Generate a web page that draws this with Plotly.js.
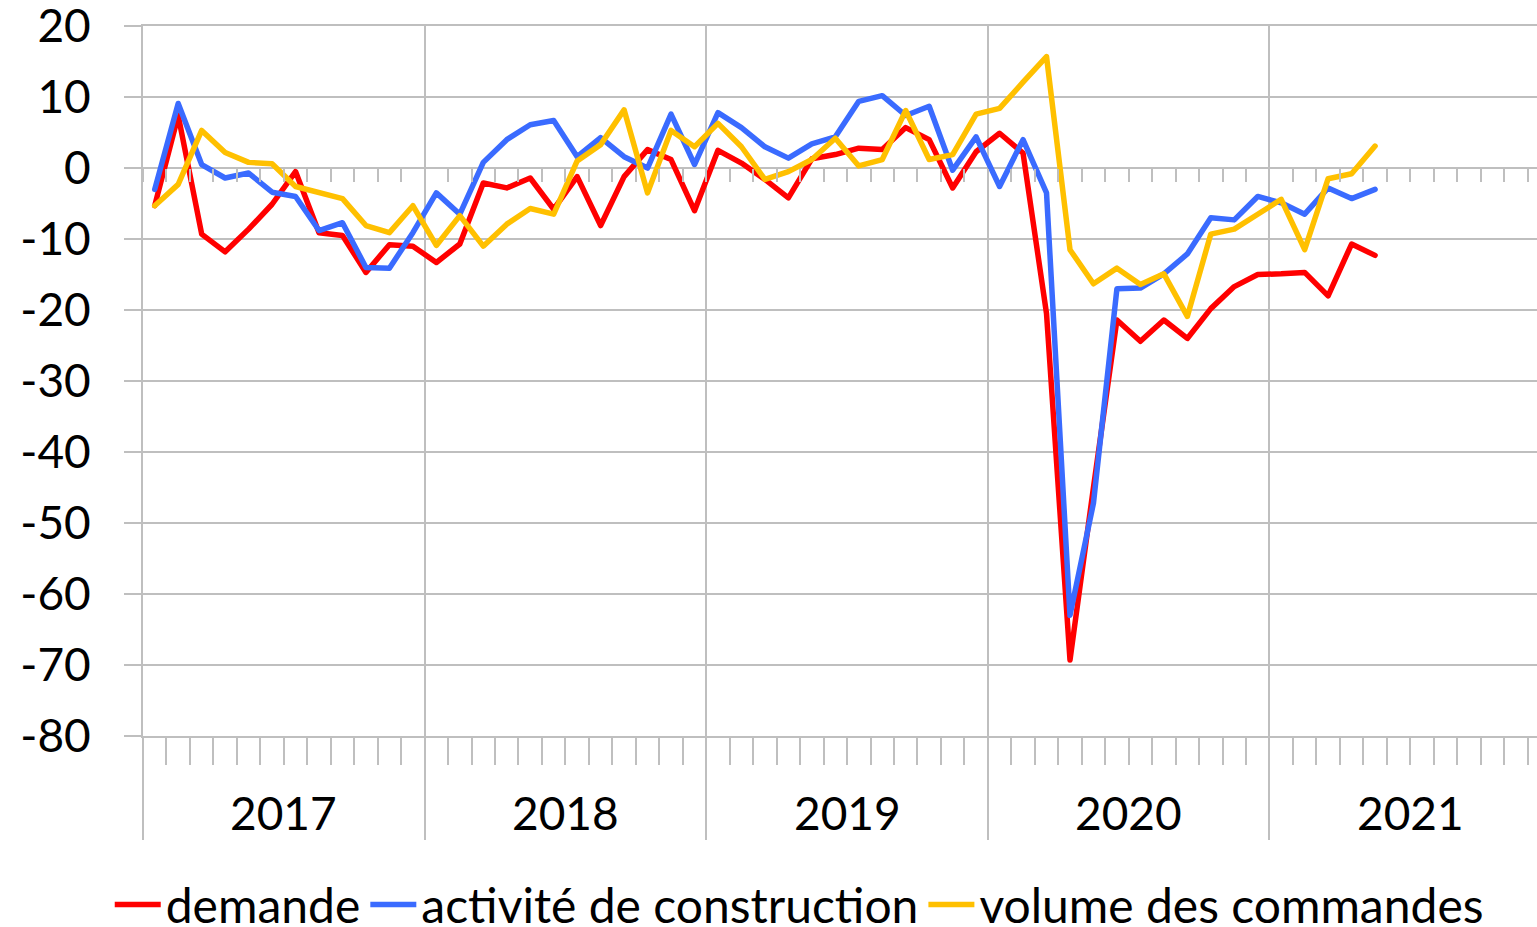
<!DOCTYPE html>
<html>
<head>
<meta charset="utf-8">
<script src="https://cdn.plot.ly/plotly-3.0.1.min.js"></script>
<style>
html,body{margin:0;padding:0;background:#fff;}
#chart{width:1537px;height:927px;}
.scatterlayer .js-line{stroke-linejoin:round;stroke-linecap:round;}
</style>
</head>
<body>
<div id="chart"></div>
<script>
// Monthly categories Jan 2017 – May 2021
const months = [
 "2017-01","2017-02","2017-03","2017-04","2017-05","2017-06","2017-07","2017-08","2017-09","2017-10","2017-11","2017-12",
 "2018-01","2018-02","2018-03","2018-04","2018-05","2018-06","2018-07","2018-08","2018-09","2018-10","2018-11","2018-12",
 "2019-01","2019-02","2019-03","2019-04","2019-05","2019-06","2019-07","2019-08","2019-09","2019-10","2019-11","2019-12",
 "2020-01","2020-02","2020-03","2020-04","2020-05","2020-06","2020-07","2020-08","2020-09","2020-10","2020-11","2020-12",
 "2021-01","2021-02","2021-03","2021-04","2021-05"
];
const years = ["2017","2018","2019","2020","2021"];
const yTickVals = [20, 10, 0, -10, -20, -30, -40, -50, -60, -70, -80];
const yTickText = ["20","10","0","-10","-20","-30","-40","-50","-60","-70","-80"];

const demande = [
 -5.3, 7.4, -9.3, -11.8, -8.6, -5.1, -0.5, -9.1, -9.5, -14.7, -10.8, -11.0,
 -13.3, -10.7, -2.1, -2.8, -1.4, -5.8, -1.2, -8.1, -1.2, 2.6, 1.2, -6.0,
 2.5, 0.7, -1.6, -4.2, 1.3, 1.9, 2.8, 2.6, 5.7, 4.0, -2.8, 2.3,
 4.9, 2.1, -20.5, -69.3, -45.0, -21.4, -24.4, -21.4, -24.0, -19.8, -16.7, -15.0,
 -14.9, -14.7, -18.0, -10.7, -12.3
];
const activite = [
 -3.0, 9.1, 0.5, -1.4, -0.7, -3.4, -4.0, -8.8, -7.7, -14.0, -14.1, -9.1,
 -3.5, -6.5, 0.8, 4.0, 6.1, 6.7, 1.6, 4.3, 1.6, 0.0, 7.6, 0.5,
 7.8, 5.7, 3.0, 1.4, 3.4, 4.4, 9.4, 10.2, 7.4, 8.7, -0.3, 4.4,
 -2.6, 4.0, -3.5, -63.0, -47.2, -17.0, -16.9, -14.9, -12.1, -7.0, -7.3, -4.0,
 -4.9, -6.5, -2.8, -4.3, -3.0
];
const volume = [
 -5.3, -2.3, 5.3, 2.2, 0.8, 0.6, -2.6, -3.5, -4.3, -8.1, -9.1, -5.3,
 -10.9, -6.7, -11.0, -7.9, -5.7, -6.5, 1.0, 3.3, 8.2, -3.5, 5.3, 3.0,
 6.3, 3.0, -1.6, -0.5, 1.2, 4.2, 0.3, 1.2, 8.1, 1.2, 1.9, 7.6,
 8.4, 12.1, 15.7, -11.5, -16.3, -14.1, -16.4, -14.9, -20.9, -9.3, -8.6, -6.5,
 -4.4, -11.5, -1.5, -0.8, 3.1
];

// category slot centres on a numeric month axis
const xpos = months.map((m, i) => i + 0.5);

const FONT = 'Lato, "Open Sans", sans-serif';
const GRID = '#bfbfbf';
const LW = 5.5;

const traces = [
 {name:'demande', x:xpos, y:demande, text:months, mode:'lines', line:{color:'#ff0000', width:LW}},
 {name:'activité de construction', x:xpos, y:activite, text:months, mode:'lines', line:{color:'#3a6bff', width:LW}},
 {name:'volume des commandes', x:xpos, y:volume, text:months, mode:'lines', line:{color:'#ffc000', width:LW}},
 // empty helper trace so the month ticks on the zero line (xaxis2) are drawn
 {x:[], y:[], xaxis:'x2', yaxis:'y', mode:'lines', showlegend:false, hoverinfo:'skip'}
];

const xr = [0, 59.4];

const layout = {
 width:1537, height:927,
 margin:{l:143, r:0, t:26, b:191},
 paper_bgcolor:'#fff', plot_bgcolor:'#fff',
 font:{family:FONT, size:46, color:'#000'},
 showlegend:true,
 legend:{orientation:'h', xref:'container', yref:'container', x:0.52, xanchor:'center', y:0.024, yanchor:'middle',
   font:{family:FONT, size:48, color:'#000'}, bgcolor:'rgba(0,0,0,0)', itemwidth:46, tracegroupgap:0},
 xaxis:{
   range:xr, tickmode:'linear', tick0:0, dtick:12,
   ticks:'outside', ticklen:102, tickwidth:2, tickcolor:GRID,
   showgrid:true, gridcolor:GRID, gridwidth:2,
   showticklabels:false, showline:true, linecolor:GRID, linewidth:2, mirror:true,
   zeroline:false, fixedrange:true,
   minor:{tickmode:'linear', tick0:0, dtick:1, ticks:'outside', ticklen:27, tickwidth:2, tickcolor:GRID, showgrid:false}
 },
 xaxis2:{
   overlaying:'x', anchor:'free', position:0.8, side:'bottom',
   range:xr, tickmode:'linear', tick0:0, dtick:1,
   ticks:'outside', ticklen:13, tickwidth:2, tickcolor:GRID,
   showticklabels:false, showgrid:false, showline:false, zeroline:false
 },
 yaxis:{
   range:[-80, 20.01], tickmode:'array', tickvals:yTickVals, ticktext:yTickText,
   ticks:'outside', ticklen:17, tickwidth:2, tickcolor:GRID,
   showgrid:true, gridcolor:GRID, gridwidth:2,
   showline:true, linecolor:GRID, linewidth:2,
   zeroline:false, ticklabelstandoff:24, ticklabeloverflow:'allow',
   tickfont:{family:FONT, size:46, color:'#000'}
 },
 annotations: years.map((yr, k) => ({
   text:yr, x:12*k + 6, xref:'x', y:0, yref:'paper', yshift:-76,
   xanchor:'center', yanchor:'middle', showarrow:false,
   font:{family:FONT, size:46, color:'#000'}
 }))
};

Plotly.newPlot('chart', traces, layout, {staticPlot:true, displayModeBar:false});
</script>
</body>
</html>
